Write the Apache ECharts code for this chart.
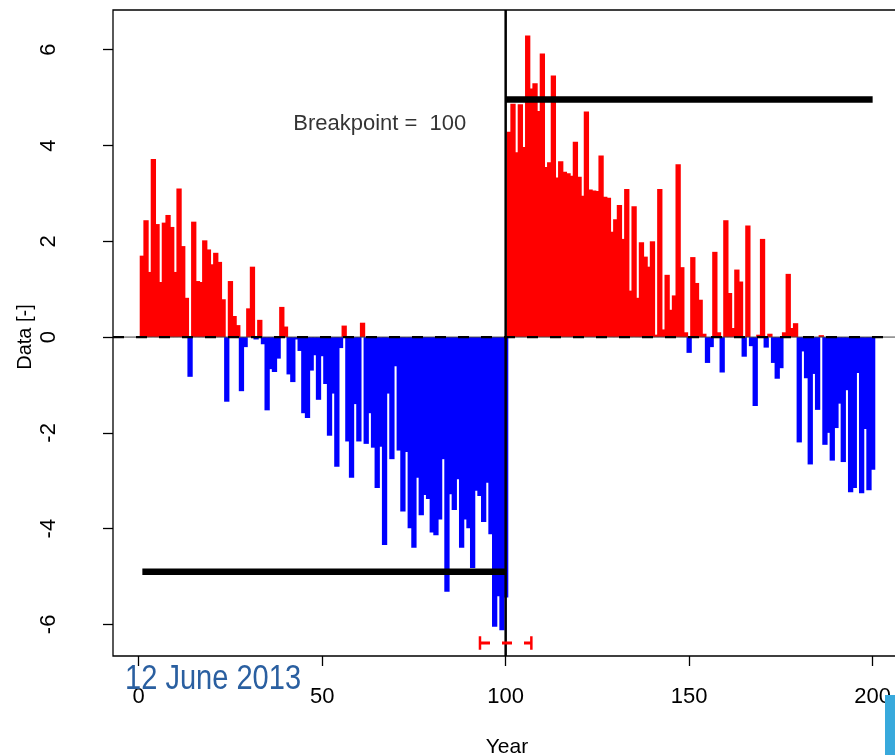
<!DOCTYPE html>
<html>
<head>
<meta charset="utf-8">
<script src="https://cdn.jsdelivr.net/npm/echarts@6/dist/echarts.min.js"></script>
<style>
  html, body { margin: 0; padding: 0; background: #fff; }
  #chart { width: 895px; height: 755px; }
</style>
</head>
<body>
<div id="chart"></div>
<script>
// ---- data ----
const values = [
  1.70, 2.44, 1.36, 3.72, 2.36, 1.15, 2.39, 2.55, 2.30, 1.36,
  3.10, 1.90, 0.82, -0.83, 2.41, 1.17, 1.15, 2.02, 1.83, 1.52,
  1.76, 1.57, 0.79, -1.35, 1.17, 0.44, 0.25, -1.13, -0.21, 0.60,
  1.47, -0.05, 0.36, -0.15, -1.53, -0.67, -0.73, -0.45, 0.63, 0.22,
  -0.78, -0.94, -0.05, -0.29, -1.59, -1.69, -0.70, -0.38, -1.31, -0.40,
  -0.98, -2.06, -1.18, -2.71, -0.23, 0.24, -2.18, -2.94, -1.40, -2.18,
  0.30, -2.23, -1.59, -2.31, -3.15, -2.29, -4.34, -1.18, -2.55, -0.61,
  -2.37, -3.64, -2.40, -3.99, -4.40, -2.94, -3.72, -3.30, -3.38, -4.08,
  -4.14, -3.81, -2.55, -5.32, -3.28, -3.61, -2.97, -4.40, -3.81, -3.99,
  -4.82, -3.21, -3.32, -3.86, -3.04, -4.12, -6.05, -5.41, -6.12, -5.44,
  4.29, 4.87, 3.86, 4.86, 3.97, 6.30, 5.19, 5.30, 4.72, 5.92,
  3.55, 3.65, 5.46, 3.33, 3.67, 3.45, 3.42, 3.37, 4.08, 3.35,
  2.95, 4.71, 3.08, 3.06, 3.05, 3.79, 2.93, 2.91, 2.20, 2.46,
  2.76, 2.05, 3.09, 0.97, 2.73, 0.82, 1.98, 1.68, 1.47, 2.00,
  0.05, 3.09, 0.16, 1.30, 0.57, 0.87, 3.61, 1.46, 0.10, -0.33,
  1.67, 1.13, 0.78, 0.07, -0.54, -0.21, 1.78, 0.10, -0.74, 2.44,
  0.92, 0.19, 1.41, 1.16, -0.41, 2.33, -0.19, -1.44, 0.05, 2.05,
  -0.22, 0.07, -0.54, -0.87, -0.65, 0.10, 1.32, 0.19, 0.29, -2.20,
  -0.30, -0.86, -2.66, -0.77, -1.52, 0.04, -2.25, -2.00, -2.58, -1.90,
  -1.39, -2.61, -1.11, -3.24, -3.15, -0.75, -3.26, -1.92, -3.20, -2.77
];
const breakpoint = 100;
const meanBefore = -4.90;
const meanAfter = 4.96;
const segBefore = [1, 100];
const segAfter = [100, 200];
const ciRange = [93, 107];
const ciLevel = -6.39;
const xTicks = [0, 50, 100, 150, 200];
const yTicks = [-6, -4, -2, 0, 2, 4, 6];
const xRange = [-7, 208];
const yRange = [-6.66, 6.83];
const breakLabel = 'Breakpoint =  100';
const breakLabelPos = [65.7, 4.45];

const RED = '#ff0000', BLUE = '#0000ff';
const FONT = '"Liberation Sans", Arial, sans-serif';

// larger bars drawn last (on top), like the reference
const barData = values
  .map((v, i) => ({ value: [i + 1, v], itemStyle: { color: v >= 0 ? RED : BLUE } }))
  .sort((a, b) => Math.abs(a.value[1]) - Math.abs(b.value[1]));

const chart = echarts.init(document.getElementById('chart'), null, { renderer: 'canvas' });

const lineSeries = (data, color, width, z, dash) => ({
  type: 'line', data, symbol: 'none', showSymbol: false, silent: true, z,
  lineStyle: { color, width, type: dash || 'solid', cap: 'butt' },
  animation: false
});

chart.setOption({
  animation: false,
  backgroundColor: '#fff',
  grid: { left: 113, top: 10, width: 789, height: 646, show: true, borderColor: '#000', borderWidth: 1.3,
          backgroundColor: 'transparent', outerBoundsMode: 'none', containLabel: false },
  xAxis: {
    type: 'value', min: xRange[0], max: xRange[1],
    axisLine: { show: false, onZero: false }, splitLine: { show: false },
    axisTick: { show: true, inside: false, length: 10, customValues: xTicks, lineStyle: { color: '#000', width: 1.3 } },
    axisLabel: { customValues: xTicks, color: '#000', fontSize: 22, fontFamily: FONT, margin: 30 }
  },
  yAxis: {
    type: 'value', min: yRange[0], max: yRange[1],
    axisLine: { show: false, onZero: false }, splitLine: { show: false },
    axisTick: { show: true, inside: false, length: 10, customValues: yTicks, lineStyle: { color: '#000', width: 1.3 } },
    axisLabel: { customValues: yTicks, rotate: 90, color: '#000', fontSize: 22, fontFamily: FONT, margin: 53 }
  },
  series: [
    { type: 'bar', data: barData, barWidth: 5.3, z: 2, silent: true, animation: false },
    lineSeries([[xRange[0], 0], [xRange[1], 0]], '#444', 1, 3),
    lineSeries([[xRange[0], 0], [xRange[1], 0]], '#000', 2.2, 3, [11, 12]),
    lineSeries([[breakpoint, yRange[0]], [breakpoint, yRange[1]]], '#000', 2.5, 5),
    lineSeries([[segBefore[0], meanBefore], [segBefore[1], meanBefore]], '#000', 6.5, 5),
    lineSeries([[segAfter[0], meanAfter], [segAfter[1], meanAfter]], '#000', 6.5, 5),
    lineSeries([[ciRange[0], ciLevel], [ciRange[1], ciLevel]], RED, 3, 5, [10, 12]),
    lineSeries([[ciRange[0], ciLevel - 0.14], [ciRange[0], ciLevel + 0.14]], RED, 2.5, 5),
    lineSeries([[ciRange[1], ciLevel - 0.14], [ciRange[1], ciLevel + 0.14]], RED, 2.5, 5),
    {
      type: 'scatter', data: [breakLabelPos], symbolSize: 0, z: 6, silent: true,
      label: { show: true, position: 'inside', formatter: breakLabel, color: '#000', fontSize: 22, fontFamily: FONT }
    }
  ],
  graphic: [
    { type: 'text', x: 125, y: 662, scaleX: 0.83, z: 10, style: { text: '12 June 2013', fill: '#2a5fa0', fontSize: 35, fontFamily: FONT } },
    { type: 'rect', shape: { x: 885, y: 695, width: 10, height: 60 }, z: 10, style: { fill: '#38a9dc' } },
    { type: 'text', x: 507, y: 747, z: 10, style: { text: 'Year', fill: '#000', fontSize: 21, fontFamily: FONT, align: 'center', verticalAlign: 'middle' } },
    { type: 'text', x: 25, y: 337, rotation: Math.PI / 2, z: 10, style: { text: 'Data [-]', fill: '#000', fontSize: 20, fontFamily: FONT, align: 'center', verticalAlign: 'middle' } }
  ]
});
</script>
</body>
</html>
